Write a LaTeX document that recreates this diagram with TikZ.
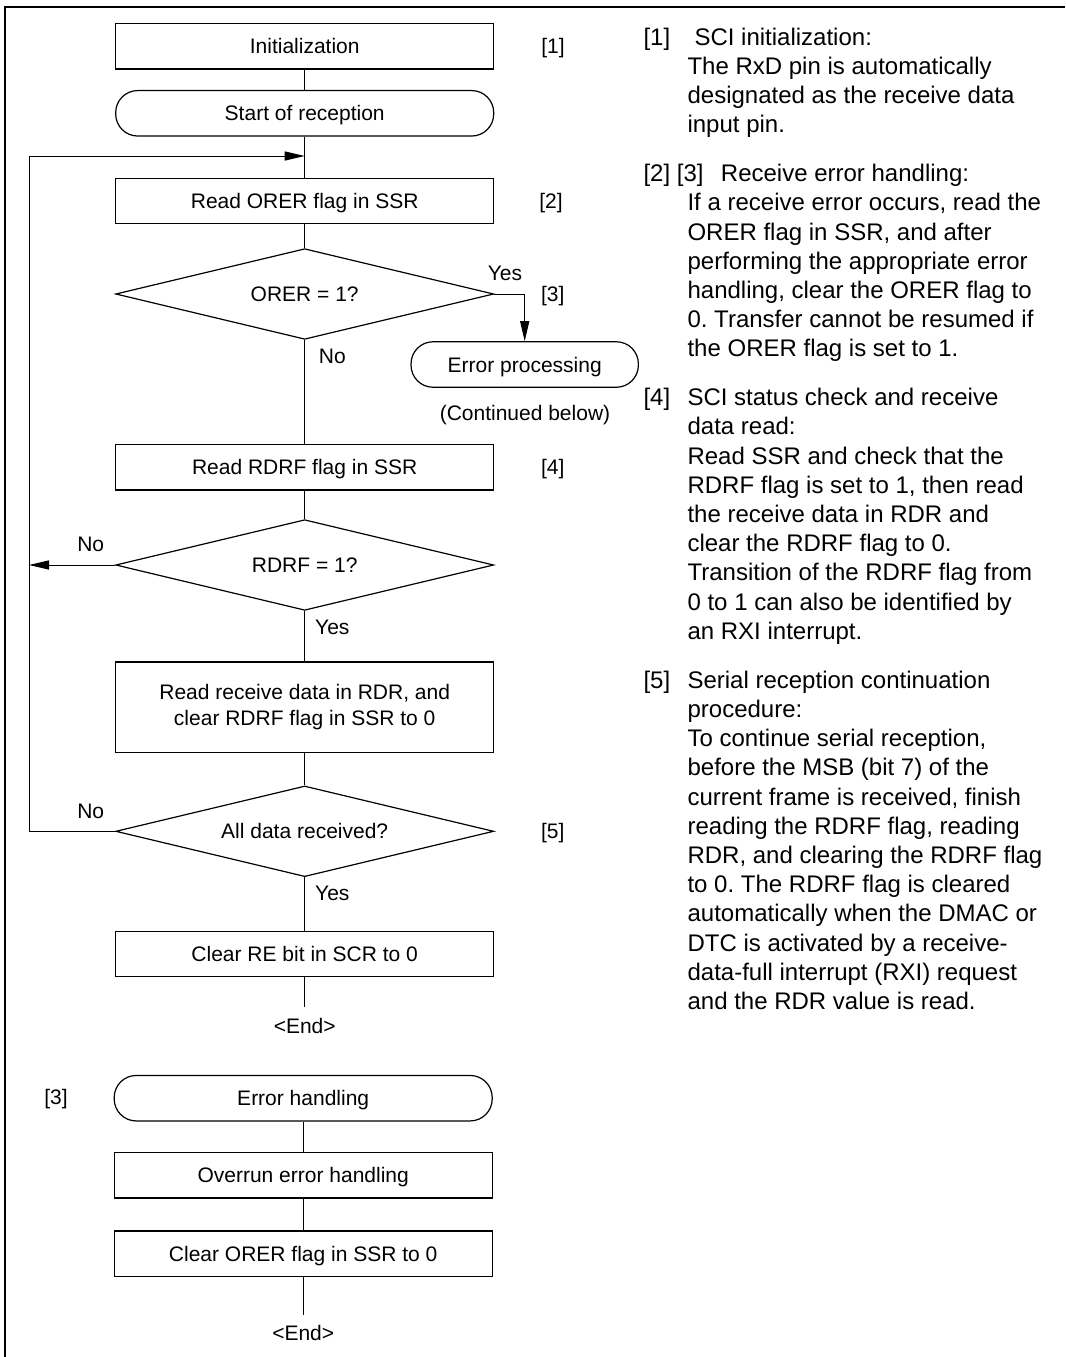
\documentclass[tikz,border=0pt]{standalone}
\usepackage{fontspec}
\setmainfont{Liberation Sans}
\usetikzlibrary{arrows.meta,shapes.geometric}
\frenchspacing
\begin{document}
\begin{tikzpicture}[x=0.75pt,y=-0.75pt,
  bt/.style={font=\fontsize{15.75}{19.5}\selectfont},
  proc/.style={bt,draw,line width=0.9pt,rectangle,minimum width=283.5pt,minimum height=34.1pt,inner sep=0pt,text height=11.3pt,text depth=0pt},
  proctwo/.style={bt,draw,line width=0.9pt,rectangle,minimum width=283.5pt,minimum height=68pt,inner sep=0pt,align=center},
  term/.style={proc,rounded corners=16.5pt},
  dec/.style={bt,draw,line width=0.9pt,diamond,aspect=4.17,minimum width=283.5pt,minimum height=68pt,inner sep=0pt,text height=11.3pt,text depth=0pt},
  lbl/.style={bt,inner sep=0pt,text height=11.3pt,text depth=0pt},
  rt/.style={font=\fontsize{18}{21.9}\selectfont,inner sep=0pt,anchor=base west},
  conn/.style={line width=0.75pt},
  arr/.style={conn,-{Triangle[length=15pt,width=6.8pt]}},
]
\useasboundingbox (0,0) rectangle (1065,1357);
% frame
\draw[line width=1.7pt] (1065,6.7) -- (5,6.7) -- (5,1357);

% main flow
\node[proc] (init) at (304.7,46.3) {Initialization};
\node[term] (start) at (304.7,113.3) {Start of reception};
\node[proc] (orer) at (304.7,201) {Read ORER flag in SSR};
\node[dec] (d1) at (304.7,294) {ORER = 1?};
\node[term,minimum width=170.5pt] (ep) at (524.7,364.5) {Error processing};
\node[proc] (rdrf) at (304.7,467.3) {Read RDRF flag in SSR};
\node[dec] (d2) at (304.7,565) {RDRF = 1?};
\node[proctwo] (rd) at (304.7,707.3) {Read receive data in RDR, and\\clear RDRF flag in SSR to 0};
\node[dec] (d3) at (304.7,831.3) {All data received?};
\node[proc] (clr) at (304.7,954) {Clear RE bit in SCR to 0};
\coordinate (e1) at (304.7,1007.3);
\node[lbl] (end1) at (304.7,1026) {<End>};

% error handling flow
\node[term] (eh) at (303.2,1098.2) {Error handling};
\node[proc] (ov) at (303.2,1175.2) {Overrun error handling};
\node[proc] (co) at (303.2,1253.8) {Clear ORER flag in SSR to 0};
\coordinate (e2) at (303.2,1315);
\node[lbl] (end2) at (303.2,1332.7) {<End>};

% labels
\node[lbl] (n1) at (553,46.3) {[1]};
\node[lbl] (n2) at (551,201) {[2]};
\node[lbl] (n3) at (552.7,294) {[3]};
\node[lbl] (n4) at (552.8,467.3) {[4]};
\node[lbl] (n5) at (552.8,831.3) {[5]};
\node[lbl] (n3b) at (56,1097) {[3]};
\node[lbl] (y1) at (505,273.3) {Yes};
\node[lbl] (no1) at (332.3,356) {No};
\node[lbl] (cb) at (525,412.7) {(Continued below)};
\node[lbl] (no2) at (90.7,544) {No};
\node[lbl] (y2) at (332.3,626.7) {Yes};
\node[lbl] (no3) at (90.7,811) {No};
\node[lbl] (y3) at (332.3,892.7) {Yes};

% connectors
\coordinate (j1) at (304.7,156);
\coordinate (lp) at (29,156);
\draw[conn] (init) -- (start);
\draw[conn] (start) -- (orer);
\draw[conn] (orer) -- (d1);
\draw[arr] (d1.east) -| (ep.north);
\draw[conn] (d1.south) -- (rdrf.north);
\draw[conn] (rdrf) -- (d2.north);
\draw[arr] (d2.west) -- (d2.west -| lp);
\draw[conn] (d2.south) -- (rd.north);
\draw[conn] (rd.south) -- (d3.north);
\draw[arr] (d3.west) -| (lp) -- (j1);
\draw[conn] (d3.south) -- (clr.north);
\draw[conn] (clr.south) -- (e1);
\draw[conn] (eh) -- (ov);
\draw[conn] (ov) -- (co);
\draw[conn] (co.south) -- (e2);

% right column
\node[rt] (r1) at (643.3,45) {[1]};
\node[rt] (r1a) at (694.3,45) {SCI initialization:};
\foreach \t [count=\i from 1] in {{The RxD pin is automatically},{designated as the receive data},{input pin.}}
  \node[rt] (r1l\i) at (687.3,45+29.2*\i) {\t};

\node[rt] (r2) at (643.3,181.6) {[2] [3]};
\node[rt] (r2a) at (720.7,181.6) {Receive error handling:};
\foreach \t [count=\i from 1] in {{If a receive error occurs, read the},{ORER flag in SSR, and after},{performing the appropriate error},{handling, clear the ORER flag to},{0. Transfer cannot be resumed if},{the ORER flag is set to 1.}}
  \node[rt] (r2l\i) at (687.3,181.6+29.2*\i) {\t};

\node[rt] (r4) at (643.3,405.6) {[4]};
\foreach \t [count=\i from 0] in {{SCI status check and receive},{data read:},{Read SSR and check that the},{RDRF flag is set to 1, then read},{the receive data in RDR and},{clear the RDRF flag to 0.},{Transition of the RDRF flag from},{0 to 1 can also be identified by},{an RXI interrupt.}}
  \node[rt] (r4l\i) at (687.3,405.6+29.2*\i) {\t};

\node[rt] (r5) at (643.3,688.3) {[5]};
\foreach \t [count=\i from 0] in {{Serial reception continuation},{procedure:},{To continue serial reception,},{before the MSB (bit 7) of the},{current frame is received, finish},{reading the RDRF flag, reading},{RDR, and clearing the RDRF flag},{to 0. The RDRF flag is cleared},{automatically when the DMAC or},{DTC is activated by a receive-},{data-full interrupt (RXI) request},{and the RDR value is read.}}
  \node[rt] (r5l\i) at (687.3,688.3+29.2*\i) {\t};
\end{tikzpicture}
\end{document}
